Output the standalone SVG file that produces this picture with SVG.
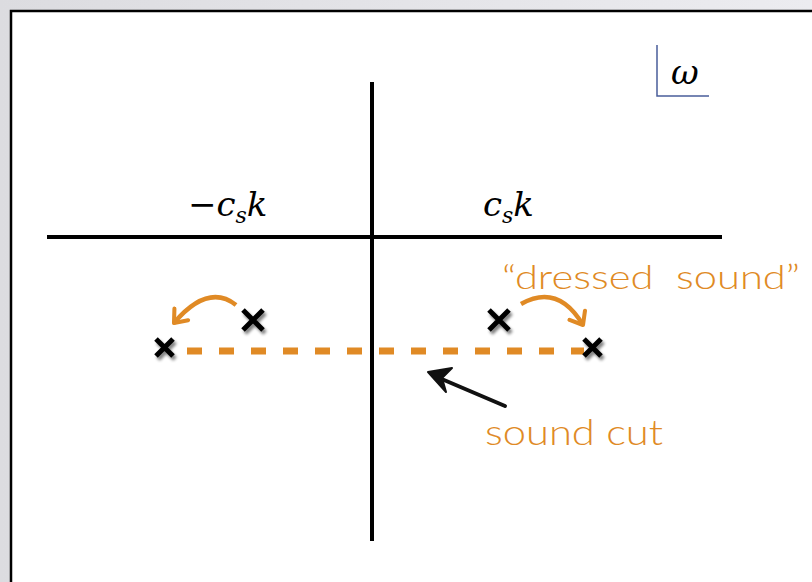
<svg xmlns="http://www.w3.org/2000/svg" width="812" height="582" viewBox="0 0 812 582">
<defs>
<linearGradient id="bg" x1="0" y1="0" x2="1" y2="0">
<stop offset="0" stop-color="#dcdce0"/><stop offset="1" stop-color="#ececf0"/>
</linearGradient>
<filter id="sh" x="-50%" y="-50%" width="200%" height="200%">
<feGaussianBlur in="SourceAlpha" stdDeviation="1.5"/>
<feOffset dx="2" dy="3" result="b"/>
<feComponentTransfer><feFuncA type="linear" slope="0.5"/></feComponentTransfer>
<feMerge><feMergeNode/><feMergeNode in="SourceGraphic"/></feMerge>
</filter>
<marker id="oa" viewBox="0 0 10 10" refX="6" refY="5" markerWidth="5" markerHeight="5" orient="auto" markerUnits="strokeWidth">
<path d="M1,1 L6,5 L1,9" fill="none" stroke="#e08a25" stroke-width="1.8" stroke-linecap="round" stroke-linejoin="round"/>
</marker>
<style>
.ax{stroke:#000;stroke-width:4;fill:none}
.x{stroke:#000;stroke-width:5;fill:none;filter:url(#sh)}
.or{stroke:#e08a25;fill:none}
.math{font-family:"DejaVu Serif","Liberation Serif",serif;font-style:italic;font-size:34px;fill:#000}
.lbl{font-family:Lato,"Liberation Sans",sans-serif;font-weight:300;fill:#e08a25}
</style>
</defs>
<rect width="812" height="582" fill="url(#bg)"/>
<rect x="11" y="11" width="820" height="600" fill="#fff" stroke="#000" stroke-width="2.5"/>
<g id="axes">
<line class="ax" x1="372" y1="82" x2="372" y2="541"/>
<line class="ax" x1="47" y1="237" x2="722" y2="237"/>
</g>
<g id="omega">
<path d="M657,45 V96 H709" fill="none" stroke="#4a5e9a" stroke-width="1.5"/>
<text class="math" x="671" y="84" font-size="40">ω</text>
</g>
<g id="labels-math">
<text class="math" x="188" y="216">−<tspan>c</tspan><tspan font-size="22" dy="7">s</tspan><tspan dy="-7">k</tspan></text>
<text class="math" x="483" y="216">c<tspan font-size="22" dy="7">s</tspan><tspan dy="-7">k</tspan></text>
</g>
<g id="connectors">
<line x1="187" y1="351" x2="584" y2="351" stroke="#e08a25" stroke-width="7" stroke-dasharray="15 17"/>
<path class="or" d="M236,305 Q208,283 174,323" stroke-width="4.5" marker-end="url(#oa)"/>
<path class="or" d="M521,304 Q558,283 583,325" stroke-width="4.5" marker-end="url(#oa)"/>
<g id="black-arrow">
<path d="M505,406 L437,377" stroke="#111" stroke-width="4" stroke-linecap="round" fill="none"/>
<path d="M428,372 L452,368 L442,378 L446,392 Z" fill="#111" stroke="#111" stroke-width="2" stroke-linejoin="round"/>
</g>
</g>
<g id="poles">
<path class="x" d="M243,310 L263,330 M263,310 L243,330"/>
<path class="x" d="M156,339 L173,356 M173,339 L156,356"/>
<path class="x" d="M489,310 L509,330 M509,310 L489,330"/>
<path class="x" d="M584,339 L601,356 M601,339 L584,356"/>
</g>
<g id="text-dressed">
<text class="lbl" x="502" y="289" font-size="33" textLength="298" lengthAdjust="spacingAndGlyphs" xml:space="preserve">“dressed  sound”</text>
</g>
<g id="text-cut">
<text class="lbl" x="485" y="445" font-size="35" textLength="178" lengthAdjust="spacingAndGlyphs">sound cut</text>
</g>
</svg>
